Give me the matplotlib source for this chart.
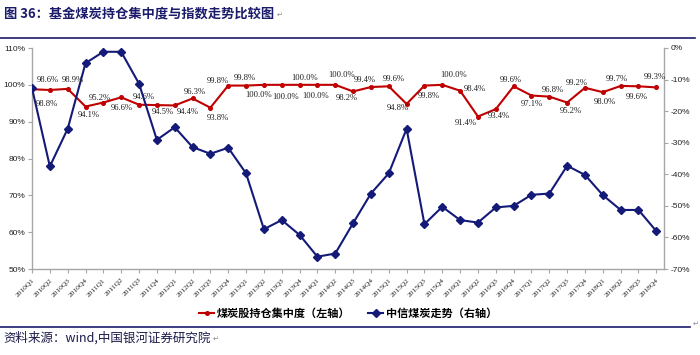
import matplotlib.pyplot as plt
from matplotlib.lines import Line2D
import numpy as np

plt.rcParams['font.family'] = ['Noto Sans CJK SC', 'DejaVu Sans']

quarters = ['2010Q1', '2010Q2', '2010Q3', '2010Q4', '2011Q1', '2011Q2', '2011Q3', '2011Q4',
            '2012Q1', '2012Q2', '2012Q3', '2012Q4', '2013Q1', '2013Q2', '2013Q3', '2013Q4',
            '2014Q1', '2014Q2', '2014Q3', '2014Q4', '2015Q1', '2015Q2', '2015Q3', '2015Q4',
            '2016Q1', '2016Q2', '2016Q3', '2016Q4', '2017Q1', '2017Q2', '2017Q3', '2017Q4',
            '2018Q1', '2018Q2', '2018Q3', '2018Q4']

# coal-stock holding concentration (left axis, %)
concentration = [98.8, 98.6, 98.9, 94.1, 95.2, 96.6, 94.6, 94.5,
                 94.4, 96.3, 93.8, 99.8, 99.8, 100.0, 100.0, 100.0,
                 100.0, 100.0, 98.2, 99.4, 99.6, 94.8, 99.8, 100.0,
                 98.4, 91.4, 93.4, 99.6, 97.1, 96.8, 95.2, 99.2,
                 98.0, 99.7, 99.6, 99.3]

# CITIC coal index trend (right axis, %)
index_trend = [-12.7, -37.5, -25.6, -4.8, -1.2, -1.2, -11.3, -29.1,
               -25.1, -31.4, -33.5, -31.6, -39.7, -57.4, -54.5, -59.2,
               -66.1, -65.1, -55.5, -46.1, -39.7, -25.6, -55.8, -50.3,
               -54.5, -55.3, -50.5, -50.0, -46.5, -46.1, -37.3, -40.2,
               -46.6, -51.3, -51.3, -58.0]

# data label offsets in pixels (dx, dy; dy positive = downwards)
label_offsets = [(15, 15), (-2, -10), (5, -9), (3, 8), (-4, -5), (1, 11), (5, -8), (6, 7),
                 (13, 7), (2, -6), (7, 10), (-10, -5), (-1, -8), (-5, 10), (4, 12), (5, -7),
                 (-2, 11), (6, -10), (-6, 7), (-6, -7), (5, -7), (-9, 4), (4, 10), (11, -10),
                 (15, -2), (-12, 6), (3, 7), (-3, -6), (0, 8), (4, -7), (4, 8), (-8, -5),
                 (2, 10), (-4, -7), (-2, 11), (-2, -10)]

red = '#C00000'
navy = '#141a78'
axis_gray = '#A6A6A6'
text_col = '#222222'

fig = plt.figure(figsize=(7, 3.55), dpi=100)
ax = fig.add_axes([32 / 700, 1 - 269 / 355, (664 - 32) / 700, 221 / 355])
ax2 = ax.twinx()

x = np.arange(len(quarters))
ax.plot(x, concentration, color=red, lw=1.5, marker='o', ms=2.6, mfc=red, mec=red, zorder=3)
ax2.plot(x, index_trend, color=navy, lw=1.5, marker='D', ms=4, mfc=navy, mec=navy, zorder=2)

ax.set_xlim(0, 35.43)
ax.set_ylim(50, 110)
ax2.set_ylim(-70, 0)

ax.set_yticks(np.arange(50, 111, 10))
ax.set_yticklabels([f'{v}%' for v in range(50, 111, 10)], family='Liberation Sans',
                   fontsize=6, color=text_col)
ax2.set_yticks(np.arange(-70, 1, 10))
ax2.set_yticklabels([f'{v}%' for v in range(-70, 1, 10)], family='Liberation Sans',
                    fontsize=6, color=text_col)
ax.set_xticks(x)
ax.set_xticklabels(quarters, rotation=45, ha='right', va='top', rotation_mode='anchor',
                   family='Liberation Serif', fontsize=5.4, color=text_col)

for a in (ax, ax2):
    a.spines['top'].set_visible(False)
    for s in ('left', 'right', 'bottom'):
        a.spines[s].set_color(axis_gray)
        a.spines[s].set_linewidth(1.0)
ax.spines['right'].set_visible(False)
ax2.spines['left'].set_visible(False)
ax2.spines['bottom'].set_visible(False)
ax.tick_params(axis='y', length=3, color=axis_gray, pad=2)
ax.tick_params(axis='x', length=3, color=axis_gray, pad=3)
ax2.tick_params(axis='y', length=3, color=axis_gray, pad=2)

for i, v in enumerate(concentration):
    dx, dy = label_offsets[i]
    ax2.annotate(f'{v:.1f}%', xy=(i, v), xycoords=ax.transData,
                 xytext=(dx * 0.72, -dy * 0.72), textcoords='offset points',
                 ha='center', va='center', family='Liberation Serif', fontsize=6.2,
                 color=text_col, zorder=5)

handles = [Line2D([], [], color=red, lw=1.5, marker='o', ms=2.6),
           Line2D([], [], color=navy, lw=1.5, marker='D', ms=4)]
fig.legend(handles, ['煤炭股持仓集中度（左轴）', '中信煤炭走势（右轴）'],
           loc='center', bbox_to_anchor=(0.497, 1 - 313 / 355), ncol=2, frameon=False,
           prop={'size': 8, 'weight': 'bold'}, handlelength=1.4, handletextpad=0.2,
           columnspacing=1.6)

fig.text(4 / 700, 1 - 13 / 355, '图 36：基金煤炭持仓集中度与指数走势比较图',
         fontsize=9.5, weight='bold', color='#1b1b6b', va='center', ha='left')
fig.text(277 / 700, 1 - 15 / 355, '↵', family='DejaVu Sans', fontsize=5, color='#888888',
         va='center', ha='left')
fig.add_artist(Line2D([0, 695 / 700], [1 - 38 / 355] * 2, transform=fig.transFigure,
                      color='#1b1b6b', lw=1.2))
fig.add_artist(Line2D([0, 690 / 700], [1 - 327 / 355] * 2, transform=fig.transFigure,
                      color='#1b1b6b', lw=1.2))
fig.text(696 / 700, 1 - 324 / 355, '↵', family='DejaVu Sans', fontsize=5, color='#888888',
         va='center', ha='center')
fig.text(3 / 700, 1 - 338 / 355, '资料来源：wind,中国银河证券研究院',
         fontsize=9, color='#1a1a4a', va='center', ha='left')
fig.text(213 / 700, 1 - 339 / 355, '↵', family='DejaVu Sans', fontsize=5, color='#888888',
         va='center', ha='left')

fig.savefig('out.png', dpi=100)
